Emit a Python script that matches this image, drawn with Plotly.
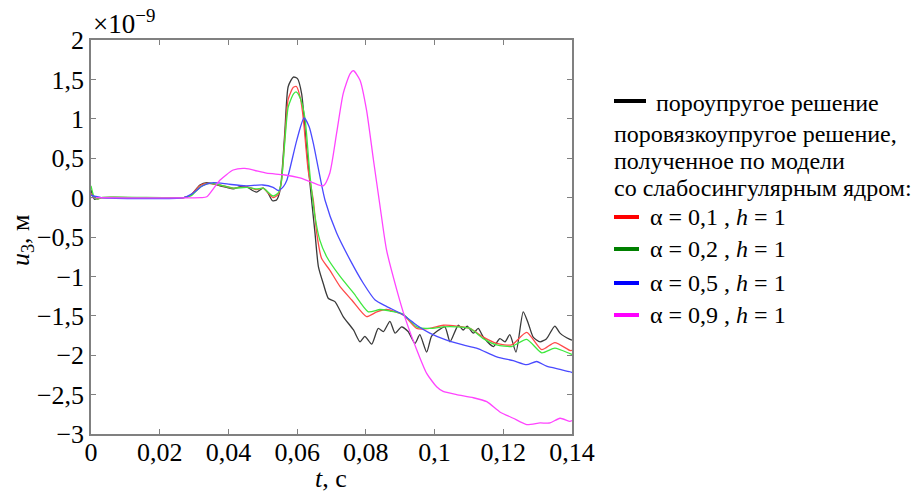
import plotly.graph_objects as go

# ---- data (u3 in units of 1e-9 m, t in s) ----
t_black = [0, 0.001, 0.003, 0.027, 0.029, 0.0317, 0.0337, 0.0375, 0.0395, 0.0414, 0.0435, 0.0453, 0.047,
           0.0482, 0.0501, 0.0515, 0.0528, 0.054, 0.0548, 0.0554, 0.0564, 0.0574, 0.0589, 0.0601, 0.0613,
           0.0628, 0.0642, 0.0652, 0.0662, 0.0676, 0.0691, 0.071, 0.0734, 0.0764, 0.0783, 0.0797, 0.0817,
           0.0836, 0.0851, 0.087, 0.0885, 0.0904, 0.0923, 0.0943, 0.0957, 0.0977, 0.0991, 0.1006, 0.103,
           0.1045, 0.1069, 0.1083, 0.1095, 0.1113, 0.1127, 0.1142, 0.1171, 0.119, 0.1205, 0.1219, 0.1237,
           0.1258, 0.1273, 0.1287, 0.1307, 0.1326, 0.135, 0.1365, 0.1394, 0.14]
u_black = [0.1, -0.02, 0, 0, 0.03, 0.16, 0.19, 0.15, 0.13, 0.11, 0.14, 0.14, 0.09,
           0.07, 0.12, 0.06, -0.04, -0.03, 0.05, 0.22, 0.82, 1.41, 1.53, 1.51, 1.32,
           0.6, -0.03, -0.45, -0.88, -1.09, -1.28, -1.32, -1.51, -1.68, -1.83, -1.76, -1.86,
           -1.66, -1.70, -1.57, -1.72, -1.64, -1.70, -1.85, -1.74, -1.96, -1.76, -1.70, -1.64,
           -1.83, -1.62, -1.68, -1.63, -1.72, -1.66, -1.77, -1.89, -1.79, -1.83, -1.74, -1.96,
           -1.45, -1.60, -1.77, -1.83, -1.79, -1.63, -1.72, -1.80, -1.81]

t_red = [0, 0.002, 0.003, 0.027, 0.029, 0.0317, 0.0337, 0.0375, 0.0414, 0.0453, 0.0482, 0.0501, 0.053,
         0.0545, 0.0554, 0.0564, 0.0574, 0.0589, 0.0598, 0.061, 0.0618, 0.0632, 0.0647, 0.0657, 0.0671,
         0.0695, 0.0725, 0.0759, 0.0802, 0.0832, 0.086, 0.0909, 0.0948, 0.0986, 0.1025, 0.1064, 0.1103,
         0.1142, 0.1181, 0.1224, 0.1268, 0.1312, 0.135, 0.1394, 0.14]
u_red = [0.05, -0.02, 0, 0, 0.03, 0.15, 0.18, 0.16, 0.12, 0.14, 0.10, 0.12, 0.0,
         0.04, 0.2, 0.75, 1.25, 1.4, 1.41, 1.25, 1.0, 0.35, -0.03, -0.45, -0.77,
         -0.92, -1.13, -1.30, -1.51, -1.45, -1.42, -1.49, -1.66, -1.66, -1.62, -1.63, -1.66,
         -1.77, -1.85, -1.87, -1.71, -1.93, -1.84, -1.94, -1.94]

t_green = [0, 0.001, 0.002, 0.003, 0.027, 0.029, 0.032, 0.0345, 0.0375, 0.0414, 0.0453, 0.0482, 0.0501,
           0.053, 0.0545, 0.0554, 0.0564, 0.0574, 0.059, 0.0598, 0.061, 0.0623, 0.0637, 0.0652, 0.0666,
           0.0686, 0.0725, 0.0764, 0.0807, 0.0841, 0.087, 0.0909, 0.0948, 0.0986, 0.1025, 0.1064, 0.1103,
           0.1142, 0.1181, 0.1224, 0.1268, 0.1312, 0.135, 0.1394, 0.14]
u_green = [0.15, 0.0, -0.02, 0, 0, 0.02, 0.14, 0.18, 0.16, 0.12, 0.13, 0.11, 0.12,
           0.02, 0.06, 0.2, 0.7, 1.15, 1.32, 1.34, 1.25, 1.0, 0.3, -0.24, -0.54,
           -0.75, -1.0, -1.21, -1.45, -1.42, -1.44, -1.48, -1.64, -1.66, -1.64, -1.64, -1.66,
           -1.79, -1.87, -1.89, -1.80, -1.97, -1.91, -1.98, -1.99]

t_blue = [0, 0.003, 0.027, 0.0295, 0.0325, 0.0356, 0.04, 0.045, 0.05, 0.053, 0.0545, 0.056, 0.057,
          0.0599, 0.062, 0.0635, 0.0647, 0.0681, 0.0715, 0.0754, 0.0793, 0.0827, 0.086, 0.0909, 0.0948,
          0.0986, 0.1035, 0.1083, 0.1122, 0.1181, 0.1229, 0.1268, 0.1297, 0.1326, 0.1365, 0.1394, 0.14]
u_blue = [0.03, 0, 0, 0.05, 0.15, 0.19, 0.17, 0.15, 0.16, 0.13, 0.09, 0.14, 0.22,
          0.73, 1.01, 0.9, 0.69, -0.03, -0.45, -0.79, -1.09, -1.30, -1.38, -1.49, -1.62,
          -1.72, -1.81, -1.87, -1.91, -2.02, -2.07, -2.12, -2.08, -2.14, -2.18, -2.21, -2.22]

t_magenta = [0, 0.032, 0.0337, 0.0375, 0.0414, 0.0448, 0.0511, 0.056, 0.0608, 0.0628, 0.0676, 0.0695,
             0.0715, 0.0734, 0.0754, 0.0764, 0.0783, 0.0802, 0.0822, 0.0841, 0.086, 0.089, 0.0913, 0.0948,
             0.0977, 0.1006, 0.1025, 0.1064, 0.1113, 0.1152, 0.119, 0.1229, 0.1268, 0.1307, 0.1336, 0.1365,
             0.1394, 0.14]
u_magenta = [0.0, 0.0, 0.01, 0.22, 0.35, 0.37, 0.31, 0.29, 0.25, 0.22, 0.15, 0.31,
             0.82, 1.32, 1.57, 1.61, 1.49, 1.11, 0.48, -0.1, -0.66, -1.17, -1.51, -1.93,
             -2.23, -2.40, -2.46, -2.50, -2.54, -2.59, -2.72, -2.80, -2.88, -2.86, -2.86, -2.80,
             -2.84, -2.83]

x_ticks = [0, 0.02, 0.04, 0.06, 0.08, 0.1, 0.12, 0.14]
y_ticks = [-3, -2.5, -2, -1.5, -1, -0.5, 0, 0.5, 1, 1.5, 2]

legend_header = "пороупругое решение"
legend_text = ["поровязкоупругое решение,", "полученное по модели", "со слабосингулярным ядром:"]
legend_items = ["α = 0,1 , <i>h</i> = 1", "α = 0,2 , <i>h</i> = 1", "α = 0,5 , <i>h</i> = 1", "α = 0,9 , <i>h</i> = 1"]

FONT = "Liberation Serif"
W, H = 916, 492
L, R, T, B = 91, 572, 40, 434

series = [
    (t_black, u_black, "#3a3a3a", "black"),
    (t_red, u_red, "#ff4a4a", "red"),
    (t_green, u_green, "#3ee83e", "#008000"),
    (t_blue, u_blue, "#4a4aff", "blue"),
    (t_magenta, u_magenta, "#ff44ff", "magenta"),
]

fig = go.Figure()
for tx, uy, col, _ in series:
    fig.add_trace(go.Scatter(x=tx, y=uy, mode="lines",
                             line=dict(color=col, width=1.3, shape="spline", smoothing=0.6),
                             showlegend=False, hoverinfo="skip"))

axcol = "#808080"
TF = 26
fig.update_xaxes(range=[0, 0.14], tickvals=x_ticks, ticks="inside", ticklen=5, tickcolor=axcol,
                 showline=True, linecolor=axcol, linewidth=1.5, mirror="ticks", showgrid=False,
                 zeroline=False, ticklabelstandoff=-6,
                 tickfont=dict(family=FONT, size=TF, color="black"))
fig.update_yaxes(range=[-3, 2], tickvals=y_ticks, ticks="inside", ticklen=5, tickcolor=axcol,
                 showline=True, linecolor=axcol, linewidth=1.5, mirror="ticks", showgrid=False,
                 zeroline=False, tickfont=dict(family=FONT, size=TF, color="black"))

def px(xp):
    return (xp - L) / (R - L)

def py(yp):
    return (B - yp) / (B - T)

ann = []
shapes = []
ann.append(dict(text="×10<sup>−9</sup>", x=px(91), y=py(22), xref="paper", yref="paper",
                xanchor="left", yanchor="middle", showarrow=False,
                font=dict(family=FONT, size=27, color="black")))
ann.append(dict(text="<i>u</i><sub>3</sub>, м", x=px(22), y=py(240), xref="paper", yref="paper",
                xanchor="center", yanchor="middle", showarrow=False, textangle=-90,
                font=dict(family=FONT, size=26, color="black")))
ann.append(dict(text="<i>t</i>, с", x=px(331), y=py(478), xref="paper", yref="paper",
                xanchor="center", yanchor="middle", showarrow=False,
                font=dict(family=FONT, size=26, color="black")))

LF = 24
shapes.append(dict(type="line", xref="paper", yref="paper", x0=px(614), x1=px(646), y0=py(101), y1=py(101),
                   line=dict(color=series[0][3], width=4)))
ann.append(dict(text=legend_header, x=px(654), y=py(103), xref="paper", yref="paper",
                xanchor="left", yanchor="middle", showarrow=False,
                font=dict(family=FONT, size=LF, color="black")))
for i, (txt, yy) in enumerate(zip(legend_text, [134, 161, 188])):
    ann.append(dict(text=txt, x=px(612), y=py(yy), xref="paper", yref="paper",
                    xanchor="left", yanchor="middle", showarrow=False,
                    font=dict(family=FONT, size=LF, color="black")))
for item, yy, s in zip(legend_items, [217, 249, 283, 315], series[1:]):
    shapes.append(dict(type="line", xref="paper", yref="paper", x0=px(614), x1=px(639), y0=py(yy), y1=py(yy),
                       line=dict(color=s[3], width=4)))
    ann.append(dict(text=item, x=px(648), y=py(yy), xref="paper", yref="paper",
                    xanchor="left", yanchor="middle", showarrow=False,
                    font=dict(family=FONT, size=LF, color="black")))

fig.update_layout(width=W, height=H, margin=dict(l=L, r=W - R, t=T, b=H - B, autoexpand=False),
                  paper_bgcolor="white", plot_bgcolor="white", separators=", ",
                  annotations=ann, shapes=shapes, font=dict(family=FONT))

fig.write_html("out.html")
